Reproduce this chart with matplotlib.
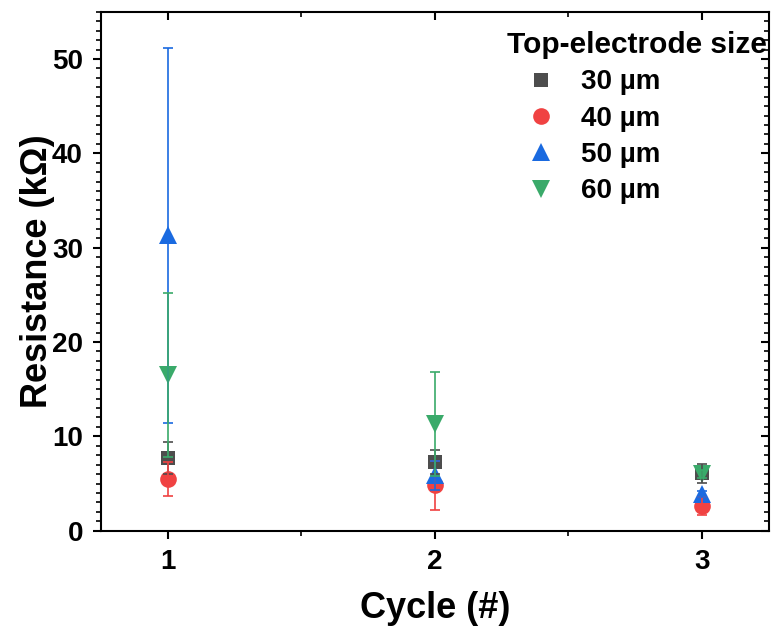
import matplotlib
matplotlib.use("Agg")
import matplotlib.pyplot as plt
from matplotlib.ticker import MultipleLocator
import matplotlib.lines as mlines

plt.rcParams['font.family'] = ['Liberation Sans', 'DejaVu Sans']
plt.rcParams['font.weight'] = 'bold'

cycles = [1, 2, 3]
labels = ["30 µm", "40 µm", "50 µm", "60 µm"]
r30 = [7.75, 7.3, 6.1]
e30 = [1.7, 1.3, 1.0]
r40 = [5.5, 4.8, 2.65]
e40 = [1.8, 2.6, 0.95]
r50 = [31.3, 5.85, 3.9]
e50 = [19.9, 1.5, 0.3]
r60 = [16.5, 11.3, 6.0]
e60 = [8.7, 5.5, 0.4]

values = [r30, r40, r50, r60]
errors = [e30, e40, e50, e60]
colors = ["#4d4d4d", "#f04242", "#1a6ae0", "#3aaa6a"]
markers = ["s", "o", "^", "v"]
msizes = [10, 12, 13, 13]

fig = plt.figure(figsize=(7.71, 6.29), dpi=100)
ax = fig.add_axes([0.131, 0.1563, 0.866, 0.825])

handles = []
for v, e, c, m, ms, lab in zip(values, errors, colors, markers, msizes, labels):
    h, = ax.plot(cycles, v, linestyle='none', marker=m, markersize=ms,
                 color=c, markeredgewidth=0, zorder=2, label=lab)
    handles.append(h)
for v, e, c in zip(values, errors, colors):
    ax.errorbar(cycles, v, yerr=e, fmt='none', ecolor=c, elinewidth=1.2,
                capsize=3.3, capthick=1.2, zorder=3)

ax.set_xlim(0.75, 3.25)
ax.set_ylim(0, 55)
ax.xaxis.set_major_locator(MultipleLocator(1))
ax.xaxis.set_minor_locator(MultipleLocator(0.5))
ax.yaxis.set_major_locator(MultipleLocator(10))
ax.yaxis.set_minor_locator(MultipleLocator(1))

for s in ax.spines.values():
    s.set_linewidth(1.5)

ax.tick_params(axis='both', which='major', direction='out', length=6, width=1.5,
               labelsize=20, pad=7)
ax.tick_params(axis='both', which='minor', direction='out', length=3.5, width=1.2)
ax.tick_params(which='both', top=True, right=True)
for tick in ax.xaxis.get_major_ticks() + ax.xaxis.get_minor_ticks():
    tick.tick2line.set_marker(mlines.TICKDOWN)
for tick in ax.yaxis.get_major_ticks() + ax.yaxis.get_minor_ticks():
    tick.tick2line.set_marker(mlines.TICKLEFT)

ax.set_xlabel("Cycle (#)", fontsize=26, fontweight='bold', labelpad=12)
ax.set_ylabel("Resistance (kΩ)", fontsize=26, fontweight='bold', labelpad=-2)

leg = ax.legend(handles=handles, title="Top-electrode size", loc='upper right',
                bbox_to_anchor=(1.027, 1.0), frameon=False, fontsize=20,
                title_fontproperties={'weight': 'bold', 'size': 21.5},
                handletextpad=0.22, labelspacing=0.37, borderaxespad=0.3,
                handlelength=2.43)
leg._legend_box.align = "left"

fig.savefig("out.png", dpi=100)
